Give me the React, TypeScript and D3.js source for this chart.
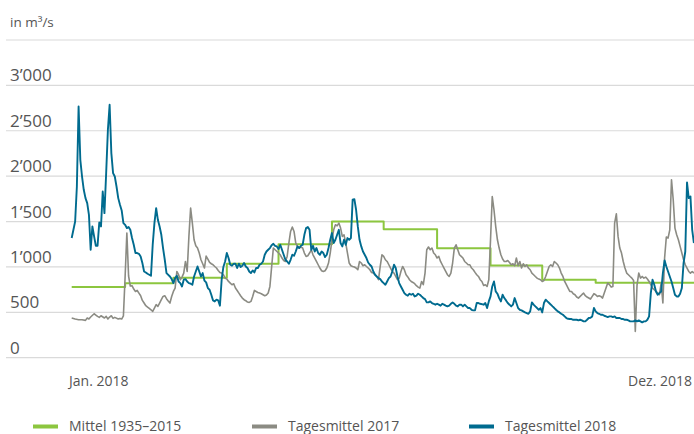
import React from "react";
import * as d3 from "d3";

const W = 694;
const H = 434;

const BLUE = "#006b8f";
const GRAY = "#8b8b83";
const GREEN = "#8cc63f";
const TEXT = "#555555";
const GRID = "#dadada";

const yTicks = [0, 500, 1000, 1500, 2000, 2500, 3000, 3500];
const yTickLabels = ["0", "500", "1’000", "1’500", "2’000", "2’500", "3’000", ""];
const xEndLabels = ["Jan. 2018", "Dez. 2018"];
const unitLabel = "in m³/s";

// Monthly mean 1935–2015 (Jan..Dec)
const monthMean = [780, 820, 880, 1035, 1250, 1500, 1415, 1205, 1015, 860, 825, 825];

// [day of year (0 = 1 Jan), daily mean m³/s]
const flow2017: [number, number][] = [
  [0,437],[2,426],[4,418],[6,418],[8,411],[9,437],[10,426],[11,448],[13,484],[14,470],[15,455],[16,444],[17,462],[19,437],[20,455],[21,426],[22,448],[23,462],[24,433],[25,444],[27,426],[28,433],[29,426],[30,460],[31,895],[32,1373],[33,900],[34,790],[35,793],[36,756],[37,730],[38,741],[39,712],[40,683],[41,631],[42,602],[43,573],[44,558],[45,543],[46,528],[47,510],[48,547],[49,584],[50,565],[51,602],[52,639],[53,675],[54,683],[55,650],[56,625],[57,602],[58,675],[59,730],[60,767],[61,950],[62,914],[63,859],[64,888],[65,932],[66,1060],[67,950],[68,1336],[69,1648],[70,1483],[71,1299],[72,1233],[73,1208],[74,1153],[75,1079],[76,1035],[77,988],[78,1120],[79,1087],[80,1049],[81,1035],[82,1024],[83,1005],[84,988],[85,961],[86,939],[87,932],[88,914],[89,877],[90,866],[91,840],[92,822],[93,804],[94,815],[95,767],[96,741],[97,712],[98,683],[99,657],[100,639],[101,628],[102,613],[103,609],[104,620],[105,675],[106,741],[107,730],[108,719],[109,712],[110,705],[111,694],[112,683],[113,690],[114,712],[115,785],[116,1000],[117,1208],[118,1189],[120,1153],[121,1134],[122,1098],[123,1071],[124,1060],[125,1116],[126,1263],[127,1391],[128,1439],[129,1391],[130,1263],[131,1226],[132,1208],[133,1219],[134,1208],[135,1153],[136,1116],[137,1123],[138,1153],[139,1189],[140,1134],[141,1098],[142,1060],[143,1024],[144,988],[145,958],[146,950],[147,958],[148,988],[149,1043],[150,1153],[151,1299],[152,1409],[153,1464],[154,1453],[155,1483],[156,1428],[157,1336],[158,1354],[159,1263],[160,1153],[161,1043],[162,1013],[163,1005],[164,999],[165,988],[166,969],[167,1060],[168,1043],[169,1013],[170,1024],[171,1005],[172,988],[173,969],[174,939],[175,932],[176,914],[177,895],[178,859],[179,1005],[180,1134],[181,1116],[182,1079],[183,1060],[184,1024],[185,988],[186,950],[187,932],[188,895],[189,859],[190,877],[191,950],[192,1005],[193,969],[194,914],[195,890],[196,859],[197,840],[198,829],[199,815],[200,793],[201,778],[202,767],[203,840],[204,804],[205,932],[206,1189],[207,1219],[208,1189],[209,1208],[210,1153],[211,1134],[212,1098],[213,1116],[214,1060],[215,1024],[216,988],[217,950],[218,914],[219,895],[220,932],[221,1043],[222,1208],[223,1244],[224,1189],[225,1134],[226,1116],[227,1098],[228,1060],[229,1043],[230,1024],[231,1024],[232,988],[233,969],[234,940],[235,914],[236,895],[237,859],[238,840],[239,795],[240,804],[241,785],[242,859],[243,1300],[244,1776],[245,1630],[246,1446],[247,1299],[248,1208],[249,1134],[250,1087],[251,1060],[252,1060],[253,1071],[254,1049],[255,1024],[256,1035],[257,1013],[258,1098],[259,1013],[260,1060],[261,988],[262,1035],[263,1005],[264,1024],[265,988],[266,969],[267,932],[268,914],[269,895],[270,877],[271,866],[272,859],[273,840],[274,851],[275,895],[276,950],[277,1005],[278,1024],[279,1005],[280,1060],[281,1043],[282,1024],[283,988],[284,932],[285,895],[286,840],[287,804],[288,767],[289,730],[290,730],[291,705],[292,694],[293,668],[294,657],[295,675],[296,694],[297,712],[298,683],[299,668],[300,657],[301,646],[302,675],[303,705],[304,694],[305,675],[306,683],[307,675],[308,657],[309,712],[310,767],[311,822],[312,805],[313,778],[314,785],[315,1483],[316,1585],[317,1336],[318,1208],[319,1153],[320,1060],[321,988],[322,932],[323,914],[324,895],[325,877],[326,850],[327,290],[328,800],[329,932],[330,877],[331,895],[332,877],[333,888],[334,866],[335,840],[336,804],[337,767],[338,749],[339,730],[340,712],[341,694],[342,822],[343,602],[344,1100],[345,1330],[346,1318],[347,1409],[348,1960],[349,1740],[350,1428],[351,1354],[352,1299],[353,1226],[354,1153],[355,1079],[356,1024],[357,988],[358,950],[359,932],[360,950],[361,932]
];

const flow2018: [number, number][] = [
  [0,1318],[2,1501],[3,1886],[4,2767],[5,2180],[6,1996],[7,1850],[8,1758],[9,1703],[10,1574],[11,1189],[12,1446],[13,1336],[14,1233],[15,1233],[16,1490],[17,1446],[18,1831],[19,1593],[20,2034],[21,2510],[22,2786],[23,2254],[24,2034],[25,1996],[26,1886],[27,1758],[28,1685],[29,1622],[30,1483],[31,1464],[32,1428],[33,1439],[34,1409],[35,1318],[36,1244],[37,1153],[38,1153],[39,1145],[40,1116],[41,1043],[42,950],[43,939],[44,925],[45,914],[46,903],[47,1244],[48,1483],[49,1648],[50,1519],[51,1446],[52,1354],[53,1208],[54,1079],[55,932],[57,895],[58,866],[59,822],[60,877],[61,903],[62,840],[63,822],[64,785],[65,859],[66,866],[67,840],[68,822],[69,815],[70,804],[71,895],[72,950],[73,1005],[74,950],[75,895],[76,932],[77,850],[78,830],[79,767],[80,749],[81,694],[82,631],[83,620],[84,639],[85,631],[86,573],[87,859],[88,1000],[89,1060],[90,1153],[91,1098],[92,1024],[93,1013],[94,1035],[95,1035],[96,988],[97,1035],[98,999],[99,1013],[100,1043],[101,1005],[102,988],[103,950],[104,932],[105,961],[106,939],[107,988],[108,988],[109,1024],[110,1035],[111,1060],[112,1134],[113,1170],[114,1189],[115,1208],[116,1240],[117,1255],[118,1233],[119,1226],[120,1197],[121,1244],[122,1189],[123,1134],[124,1079],[125,1060],[126,1035],[127,1079],[128,1134],[129,1123],[130,1170],[131,1226],[132,1208],[133,1233],[134,1244],[135,1354],[136,1428],[137,1439],[138,1409],[139,1189],[140,1233],[141,1170],[142,1208],[143,1153],[144,1134],[145,1170],[146,1153],[147,1109],[148,1134],[149,1208],[150,1299],[151,1373],[152,1263],[153,1299],[154,1354],[155,1409],[156,1263],[157,1226],[158,1299],[159,1244],[160,1318],[161,1299],[162,1318],[163,1740],[164,1747],[165,1630],[166,1446],[167,1299],[168,1226],[169,1170],[170,1134],[171,1098],[172,1049],[173,1024],[174,1005],[175,950],[176,914],[177,895],[178,877],[179,866],[180,840],[181,822],[182,804],[183,840],[184,877],[185,895],[186,950],[187,1024],[188,988],[189,895],[190,822],[191,785],[192,749],[193,712],[194,694],[195,683],[196,705],[197,694],[198,705],[199,675],[200,683],[201,705],[202,694],[203,675],[204,657],[205,646],[206,609],[207,609],[208,620],[209,602],[210,594],[211,584],[212,594],[213,584],[214,573],[215,594],[216,584],[217,573],[218,565],[219,573],[220,594],[221,609],[222,594],[223,573],[224,565],[225,584],[226,584],[227,565],[228,584],[229,565],[230,547],[231,547],[232,528],[233,521],[234,521],[235,602],[236,602],[237,594],[239,584],[240,602],[241,547],[242,620],[243,675],[244,785],[245,840],[246,730],[247,705],[248,657],[249,620],[250,694],[251,657],[252,631],[253,602],[254,584],[255,565],[256,584],[257,657],[258,602],[259,547],[260,528],[261,521],[262,510],[263,499],[264,492],[265,484],[266,510],[267,609],[268,584],[269,565],[270,547],[271,528],[272,547],[273,499],[274,602],[275,639],[276,620],[277,602],[278,584],[279,565],[280,547],[281,528],[282,510],[283,499],[284,484],[285,473],[286,455],[287,437],[288,429],[289,426],[290,426],[291,418],[292,418],[293,418],[294,411],[295,418],[296,411],[297,400],[298,400],[299,418],[300,437],[301,440],[302,455],[303,547],[304,510],[305,492],[306,484],[307,473],[308,473],[309,462],[310,455],[311,448],[312,455],[313,455],[314,448],[315,455],[316,437],[317,437],[318,437],[319,426],[320,426],[321,418],[322,418],[323,411],[324,400],[325,400],[326,400],[327,411],[328,400],[329,411],[330,400],[331,389],[332,400],[333,400],[334,418],[335,455],[336,712],[337,859],[338,804],[339,730],[340,694],[341,712],[342,730],[343,932],[344,1071],[345,1005],[346,950],[347,895],[348,840],[349,767],[350,694],[351,675],[352,675],[353,705],[354,767],[355,1043],[356,1170],[357,1931],[358,1758],[359,1776],[360,1409],[361,1263]
];

const legendItems = [
  { label: "Mittel 1935–2015", color: GREEN },
  { label: "Tagesmittel 2017", color: GRAY },
  { label: "Tagesmittel 2018", color: BLUE },
];

const FONT = "'Open Sans', 'DejaVu Sans', sans-serif";

const dayDate = (d: number) => new Date(Date.UTC(2018, 0, 1 + d));

export default function App() {
  const x = d3
    .scaleUtc()
    .domain([new Date(Date.UTC(2018, 0, 1)), new Date(Date.UTC(2019, 0, 1))])
    .range([71.7, 700.8]);
  const y = d3.scaleLinear().domain([0, 3500]).range([357.7, 40]);

  const flowLine = d3
    .line<[number, number]>()
    .x((d) => x(dayDate(d[0])))
    .y((d) => y(d[1]));

  const meanPts: [Date, number][] = monthMean.map((v, i) => [new Date(Date.UTC(2018, i, 1)), v]);
  meanPts.push([new Date(Date.UTC(2019, 0, 1)), monthMean[monthMean.length - 1]]);
  const meanLine = d3
    .line<[Date, number]>()
    .x((d) => x(d[0]))
    .y((d) => y(d[1]))
    .curve(d3.curveStepAfter);

  const legendX = [33, 252, 469];

  return (
    <div style={{ position: "absolute", left: 0, top: 0 }}>
      <svg width={W} height={H} style={{ display: "block", background: "#fff" }} fontFamily={FONT}>
        <defs>
          <clipPath id="plotClip">
            <rect x={0} y={0} width={W} height={H} />
          </clipPath>
        </defs>
        <text x={10} y={26.5} fontSize={13.5} fill={TEXT}>
          {unitLabel}
        </text>
        {yTicks.map((t, i) => (
          <g key={t}>
            <line x1={6} x2={W} y1={y(t)} y2={y(t)} stroke={GRID} strokeWidth={1.2} />
            {yTickLabels[i] && (
              <text x={10} y={y(t) - 4} fontSize={17} fill={TEXT}>
                {yTickLabels[i]}
              </text>
            )}
          </g>
        ))}
        <g clipPath="url(#plotClip)" fill="none" strokeLinejoin="round">
          <path d={meanLine(meanPts) || ""} stroke={GREEN} strokeWidth={2} />
          <path d={flowLine(flow2017) || ""} stroke={GRAY} strokeWidth={1.6} />
          <path d={flowLine(flow2018) || ""} stroke={BLUE} strokeWidth={1.9} />
        </g>
        <text x={69} y={386} fontSize={14} fill={TEXT}>
          {xEndLabels[0]}
        </text>
        <text x={692} y={386} fontSize={14} fill={TEXT} textAnchor="end">
          {xEndLabels[1]}
        </text>
        {legendItems.map((it, i) => (
          <g key={it.label}>
            <rect x={legendX[i]} y={424.5} width={25} height={4} fill={it.color} />
            <text x={legendX[i] + 36} y={430.5} fontSize={14} fill={TEXT}>
              {it.label}
            </text>
          </g>
        ))}
      </svg>
    </div>
  );
}
